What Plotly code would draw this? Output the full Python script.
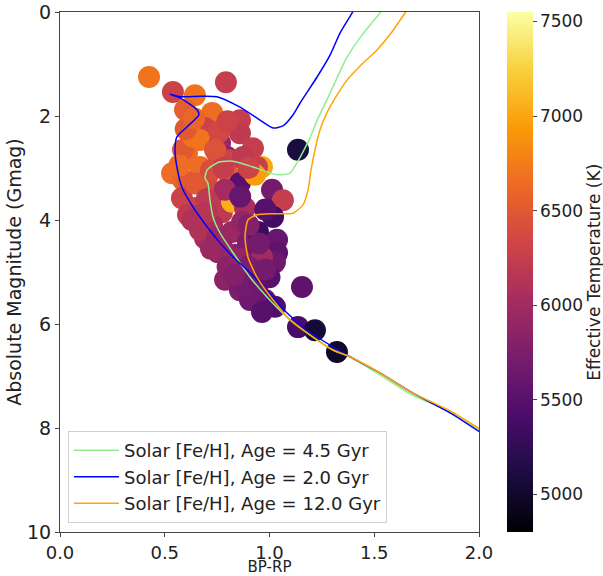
import plotly.graph_objects as go

# stars: colour index, absolute G magnitude, effective temperature
bp_rp = [0.425, 0.539, 0.644, 0.792, 0.597, 0.726, 0.692, 0.859, 0.859, 0.668,
         0.764, 0.921, 0.606, 0.797, 0.964, 1.136, 0.535, 0.587, 0.635, 0.749,
         0.811, 0.874, 0.940, 0.811, 0.702, 0.587, 0.859, 0.668, 0.611, 0.582,
         0.644, 0.611, 0.740, 0.773, 0.821, 0.931, 0.883, 0.726, 0.692, 0.821,
         0.869, 0.754, 0.835, 0.897, 0.945, 0.945, 1.012, 1.064, 1.017, 1.036,
         1.036, 1.026, 0.773, 0.821, 0.850, 0.897, 0.964, 0.931, 0.979, 1.026,
         1.155, 1.136, 1.217, 1.322, 0.716, 0.787, 0.668, 0.668, 0.788, 0.859,
         0.907, 0.964, 0.600, 0.640, 0.760, 0.800, 0.740, 0.570, 0.650, 0.720,
         0.780, 0.900, 0.860, 0.700, 0.630, 0.700, 0.750, 0.720, 0.800, 0.860,
         0.900, 0.880, 0.950, 1.000, 0.830, 0.980, 0.950, 0.900, 0.980]
gmag = [1.25, 1.54, 1.60, 1.35, 1.88, 1.94, 2.23, 2.08, 2.33, 2.46,
        2.52, 2.62, 2.71, 2.79, 2.98, 2.65, 3.10, 2.65, 2.40, 2.71,
        2.85, 2.79, 2.98, 3.17, 3.17, 3.23, 3.29, 2.98, 3.27, 3.58,
        3.77, 3.90, 3.65, 3.85, 3.65, 3.13, 3.77, 4.10, 4.35, 4.23,
        4.04, 4.62, 4.67, 4.42, 4.23, 4.67, 3.42, 3.62, 3.94, 4.38,
        4.63, 4.81, 4.52, 4.81, 4.96, 5.10, 4.71, 5.35, 5.54, 5.67,
        5.29, 6.06, 6.12, 6.54, 3.42, 3.42, 3.90, 4.19, 5.15, 5.35,
        5.54, 5.77, 2.25, 2.05, 2.30, 2.10, 2.65, 2.95, 3.30, 3.05,
        3.00, 3.00, 3.55, 3.60, 4.00, 3.85, 4.35, 4.55, 4.90, 4.75,
        4.90, 5.25, 5.20, 5.10, 5.05, 4.95, 4.45, 4.10, 3.80]
teff = [6700, 6300, 6700, 6250, 6550, 6650, 6300, 6250, 6200, 6700,
        5950, 6250, 6650, 5800, 7000, 5100, 6650, 6500, 6700, 6200,
        6300, 6200, 6250, 6550, 6600, 6600, 5500, 6650, 6500, 6300,
        6300, 6200, 6250, 6200, 7050, 6950, 6050, 6050, 6000, 5950,
        5900, 5900, 5850, 5750, 5300, 5600, 5700, 6250, 5350, 5600,
        5550, 5650, 5900, 5950, 5900, 5800, 6000, 5700, 5600, 5450,
        5550, 5400, 5050, 5000, 6350, 6000, 6150, 6100, 5850, 5750,
        5650, 5500, 6500, 6600, 6350, 6300, 6450, 6650, 6500, 6400,
        6250, 6300, 5600, 6200, 6100, 6150, 5950, 5950, 5850, 5900,
        5750, 5700, 5650, 5500, 5800, 5700, 5700, 5800, 5500]

# isochrones (solar metallicity)
iso_45_x = [2.005, 1.862, 1.685, 1.527, 1.384, 1.303, 1.179, 1.084, 0.988, 0.907,
            0.826, 0.764, 0.730, 0.716, 0.706, 0.692, 0.702, 0.726, 0.764, 0.826,
            0.921, 1.036, 1.098, 1.131, 1.160, 1.193, 1.232, 1.274, 1.322, 1.370,
            1.442, 1.527, 1.575]
iso_45_y = [8.04, 7.69, 7.37, 6.98, 6.63, 6.50, 6.17, 5.87, 5.48, 5.10,
            4.63, 4.25, 3.94, 3.62, 3.29, 3.19, 3.04, 2.96, 2.88, 2.87,
            2.98, 3.13, 3.10, 2.90, 2.69, 2.42, 2.04, 1.69, 1.27, 0.87,
            0.44, 0.02, -0.23]

iso_20_x = [2.005, 1.862, 1.685, 1.527, 1.384, 1.303, 1.179, 1.084, 0.988, 0.893,
            0.826, 0.764, 0.702, 0.635, 0.582, 0.558, 0.549, 0.558, 0.606, 0.663,
            0.654, 0.573, 0.525, 0.573, 0.668, 0.749, 0.859, 0.955, 1.017, 1.064,
            1.112, 1.146, 1.227, 1.289, 1.337, 1.394, 1.430]
iso_20_y = [8.08, 7.71, 7.33, 6.94, 6.63, 6.44, 6.12, 5.79, 5.35, 4.96,
            4.71, 4.44, 4.13, 3.75, 3.37, 2.98, 2.65, 2.40, 2.21, 1.98,
            1.88, 1.65, 1.58, 1.63, 1.62, 1.63, 1.83, 2.08, 2.23, 2.19,
            1.98, 1.75, 1.25, 0.83, 0.40, 0.02, -0.23]

iso_120_x = [2.005, 1.862, 1.685, 1.527, 1.384, 1.303, 1.179, 1.098, 1.017, 0.940,
             0.897, 0.883, 0.897, 0.940, 1.017, 1.112, 1.160, 1.184, 1.198, 1.217,
             1.241, 1.274, 1.322, 1.370, 1.442, 1.513, 1.585, 1.647, 1.695]
iso_120_y = [8.02, 7.67, 7.33, 6.94, 6.63, 6.50, 6.17, 5.92, 5.54, 5.10,
             4.71, 4.33, 4.00, 3.90, 3.88, 3.87, 3.71, 3.42, 3.04, 2.65,
             2.27, 1.94, 1.60, 1.31, 1.00, 0.73, 0.38, 0.02, -0.23]

font = "DejaVu Sans, sans-serif"

fig = go.Figure()

fig.add_trace(go.Scatter(
    x=bp_rp, y=gmag, mode="markers", showlegend=False,
    marker=dict(
        size=22, color=teff, colorscale="Inferno", cmin=4800, cmax=7550,
        line=dict(width=0),
        colorbar=dict(
            tickvals=[5000, 5500, 6000, 6500, 7000, 7500],
            ticks="outside", ticklen=4, tickfont=dict(size=17, color="#222"),
            thickness=26, len=1.0, y=0.5, yanchor="middle",
            x=1.067, xanchor="left", xpad=0, ypad=0,
            outlinewidth=0,
        ),
    ),
))

line_shape = dict(shape="spline", smoothing=0.6)
fig.add_trace(go.Scatter(x=iso_45_x, y=iso_45_y, mode="lines",
                         name="Solar [Fe/H], Age = 4.5 Gyr",
                         line=dict(color="lightgreen", width=1.5, **line_shape)))
fig.add_trace(go.Scatter(x=iso_20_x, y=iso_20_y, mode="lines",
                         name="Solar [Fe/H], Age = 2.0 Gyr",
                         line=dict(color="blue", width=1.5, **line_shape)))
fig.add_trace(go.Scatter(x=iso_120_x, y=iso_120_y, mode="lines",
                         name="Solar [Fe/H], Age = 12.0 Gyr",
                         line=dict(color="orange", width=1.5, **line_shape)))

# colour bar label, placed by hand so it stays inside the page
fig.add_annotation(
    text="Effective Temperature (K)", textangle=-90, showarrow=False,
    xref="paper", yref="paper", x=1.274, y=0.5, xanchor="center", yanchor="middle",
    font=dict(size=17, color="#222"),
)

fig.update_layout(
    width=603, height=576,
    margin=dict(l=60, r=124, t=12, b=44, autoexpand=False),
    plot_bgcolor="white", paper_bgcolor="white",
    font=dict(family=font, color="#222"),
    legend=dict(
        x=0.019, y=0.017, xanchor="left", yanchor="bottom",
        bgcolor="rgba(255,255,255,0.8)", bordercolor="#d0d0d0", borderwidth=1,
        font=dict(size=18), tracegroupgap=0, itemwidth=45,
    ),
    xaxis=dict(
        range=[0, 2], tickvals=[0, 0.5, 1.0, 1.5, 2.0],
        ticktext=["0.0", "0.5", "1.0", "1.5", "2.0"],
        showgrid=False, zeroline=False, showline=True, mirror=True,
        linecolor="#444", linewidth=1, ticks="outside", ticklen=4,
        tickcolor="#444", tickfont=dict(size=18), ticklabeloverflow="allow",
        title=dict(text="BP-RP", font=dict(size=15), standoff=4),
    ),
    yaxis=dict(
        range=[10, 0], tickvals=[0, 2, 4, 6, 8, 10],
        showgrid=False, zeroline=False, showline=True, mirror=True,
        linecolor="#444", linewidth=1, ticks="outside", ticklen=4,
        tickcolor="#444", tickfont=dict(size=19), ticklabeloverflow="allow",
        title=dict(text="Absolute Magnitude (Gmag)", font=dict(size=19), standoff=0),
    ),
)

# drop the default page margin so the figure fills the window exactly
fig.write_html("out.html", config={"displayModeBar": False},
               post_script="document.body.style.margin='0px';")
